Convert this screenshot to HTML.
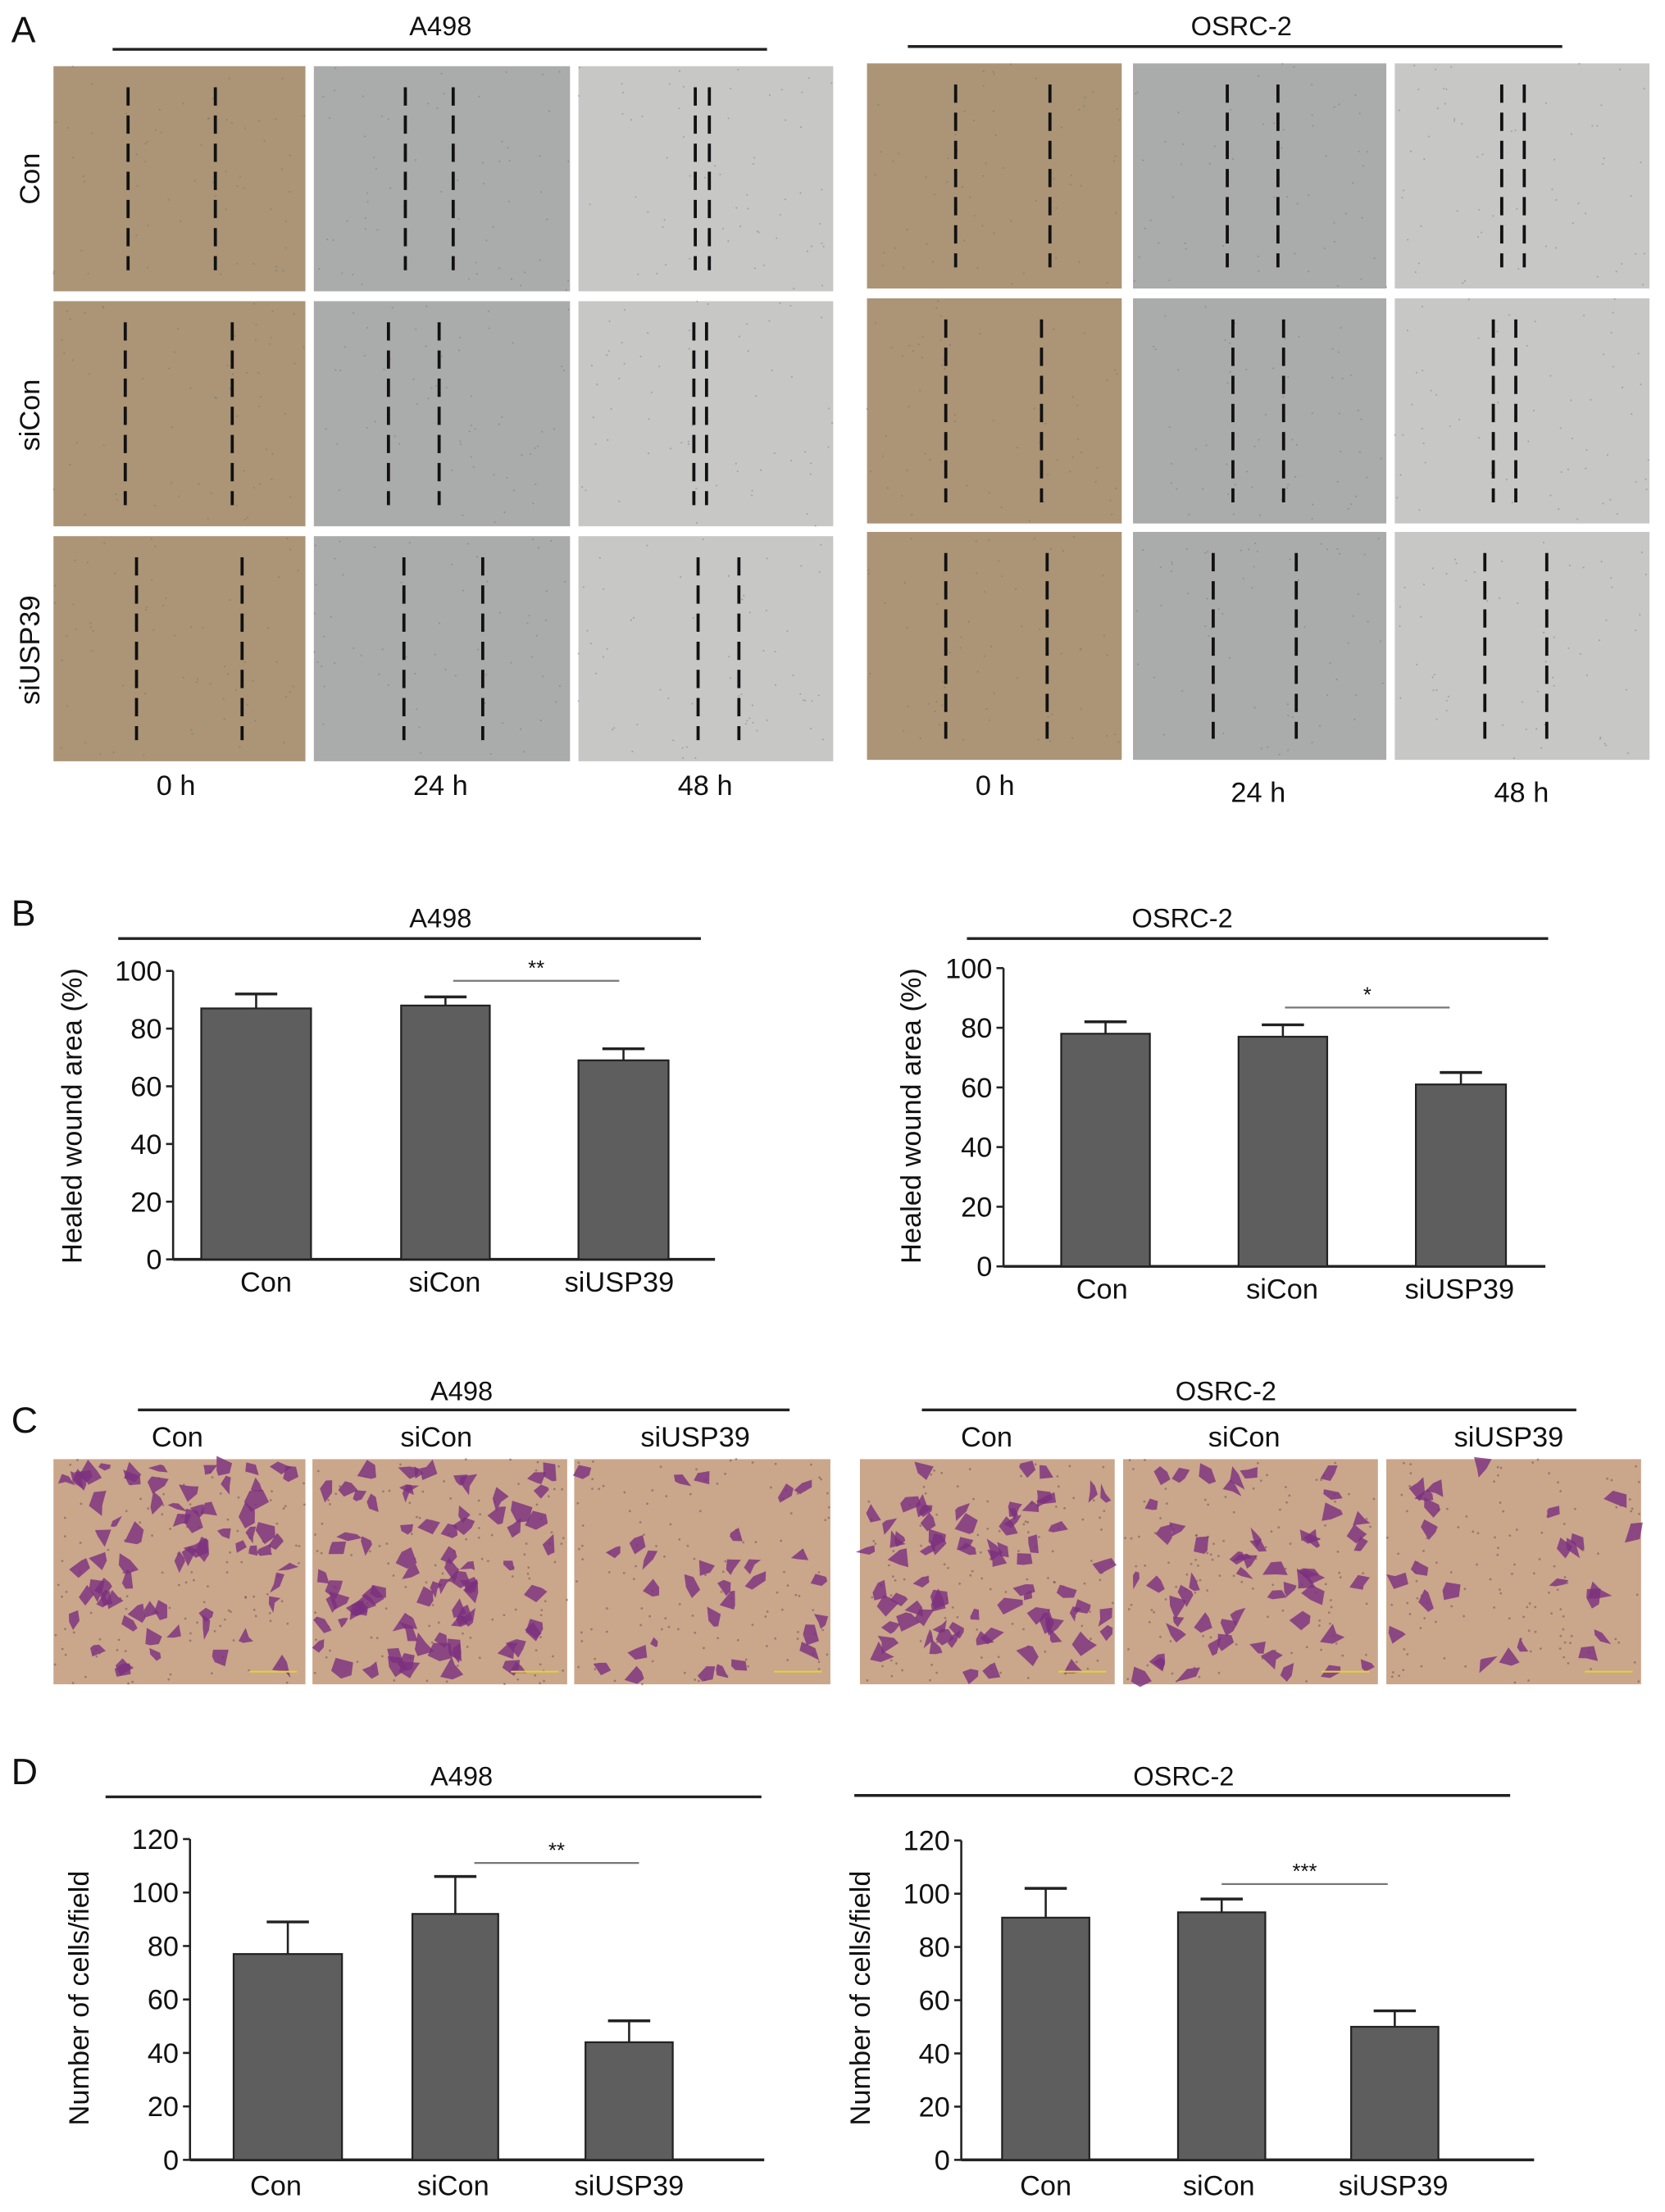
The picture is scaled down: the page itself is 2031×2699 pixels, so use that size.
<!DOCTYPE html>
<html><head><meta charset="utf-8">
<style>html,body{margin:0;padding:0;background:#fff}svg{display:block}text{font-family:"Liberation Sans",Arial,sans-serif;fill:#111}</style>
</head><body>
<svg id="s" width="2031" height="2699" viewBox="0 0 1183 1572" xmlns="http://www.w3.org/2000/svg">
<rect width="1183" height="1572" fill="#fff"/>
</svg>
<script>
var S=document.getElementById('s'),NS='http://www.w3.org/2000/svg';
function el(t,a,txt){var e=document.createElementNS(NS,t);for(var k in a)e.setAttribute(k,a[k]);if(txt!=null)e.textContent=txt;S.appendChild(e);return e;}
function T(x,y,s,size,extra){var a={x:x,y:y,'font-size':size||20,'text-anchor':'middle'};for(var k in extra)a[k]=extra[k];return el('text',a,s);}
function L(x1,y1,x2,y2,w,c){el('line',{x1:x1,y1:y1,x2:x2,y2:y2,stroke:c||'#222','stroke-width':w||1.5});}
var seed=7;function R(){seed=(seed*16807)%2147483647;return seed/2147483647;}
T(8,30,'A',26,{'text-anchor':'start'});T(8,658,'B',26,{'text-anchor':'start'});
T(8,1018,'C',26,{'text-anchor':'start'});T(8,1268,'D',26,{'text-anchor':'start'});
T(313,25,'A498',19);L(80,35,545,35,2);T(882,25,'OSRC-2',19);L(645,33,1110,33,2);
var colsA=[[38,217],[223,405],[411,592]],rowsA=[[47,207],[214,374],[381,541]];
var colsO=[[616,797],[805,985],[991,1172]],rowsO=[[45,205],[212,372],[378,540]];
var fills=['#ab9576','#aaacab','#c7c8c6'];
var dA=[[[91,153],[288,322],[494,504]],[[89,165],[276,312],[493,502]],[[97,172],[287,343],[496,525]]];
var dO=[[[679,746],[872,908],[1067,1083]],[[672,740],[876,912],[1061,1077]],[[672,744],[862,921],[1055,1099]]];
function grid(cols,rows,d){for(var r=0;r<3;r++)for(var c=0;c<3;c++){var x=cols[c][0],w=cols[c][1]-x,y=rows[r][0],h=rows[r][1]-y;
el('rect',{x:x,y:y,width:w,height:h,fill:fills[c]});
for(var i=0;i<60;i++)el('circle',{cx:x+R()*w,cy:y+R()*h,r:0.6,fill:'#666','fill-opacity':0.4});
d[r][c].forEach(function(xx){el('line',{x1:xx,y1:y+15,x2:xx,y2:rows[r][1]-15,stroke:'#111','stroke-width':2.2,'stroke-dasharray':'13,7'});});}}
grid(colsA,rowsA,dA);grid(colsO,rowsO,dO);
[['Con',127],['siCon',295],['siUSP39',462]].forEach(function(a){T(28,a[1],a[0],20,{transform:'rotate(-90 28 '+a[1]+')'});});
[[125,565,'0 h'],[313,565,'24 h'],[501,565,'48 h'],[707,565,'0 h'],[894,570,'24 h'],[1081,570,'48 h']].forEach(function(a){T(a[0],a[1],a[2],20);});
T(328,995,'A498',19);L(98,1002,561,1002,2);T(871,995,'OSRC-2',19);L(655,1002,1120,1002,2);
[[126,'Con'],[310,'siCon'],[494,'siUSP39'],[701,'Con'],[884,'siCon'],[1072,'siUSP39']].forEach(function(a){T(a[0],1028,a[1],20);});
var colsC=[[38,217,70],[222,403,80],[408,590,30],[611,792,75],[798,979,55],[985,1166,25]];
colsC.forEach(function(c){var x=c[0],w=c[1]-x,y=1037,h=160;el('rect',{x:x,y:y,width:w,height:h,fill:'#caa68b'});
for(var i=0;i<120;i++)el('circle',{cx:x+R()*w,cy:y+R()*h,r:0.8,fill:'#6a4a50','fill-opacity':0.5});
for(var i=0;i<c[2];i++){var cx=x+5+R()*(w-10),cy=y+5+R()*(h-10),pts=[];for(var k=0;k<5;k++){var an=k*1.26+R(),rr=2+R()*8;pts.push((cx+Math.cos(an)*rr).toFixed(1)+','+(cy+Math.sin(an)*rr).toFixed(1));}
el('polygon',{points:pts.join(' '),fill:'#7b2f7e','fill-opacity':0.8});}
el('line',{x1:x+w-40,y1:y+h-9,x2:x+w-6,y2:y+h-9,stroke:'#e0d040','stroke-width':1.2});});
function chart(o){var ax=o.ax,y0=o.y0,yt=o.yt,max=o.max,sc=(y0-yt)/max;function Y(v){return y0-v*sc;}
L(ax,yt,ax,y0,1.5);L(ax,y0,o.xe,y0,2);
for(var v=0;v<=max;v+=20){L(ax-5,Y(v),ax,Y(v),1.5);T(ax-8,Y(v)+7,String(v),20,{'text-anchor':'end'});}
o.bars.forEach(function(b){el('rect',{x:b[0],y:Y(b[2]),width:b[1]-b[0],height:y0-Y(b[2]),fill:'#5e5e5e',stroke:'#222','stroke-width':1.3});
var m=(b[0]+b[1])/2;L(m,Y(b[2]),m,Y(b[3]),1.5);L(m-15,Y(b[3]),m+15,Y(b[3]),2);});
o.labs.forEach(function(l,i){T(l,o.ly,['Con','siCon','siUSP39'][i],20);});
L(o.sig[0],o.sig[2],o.sig[1],o.sig[2],1.3,'#777');T((o.sig[0]+o.sig[1])/2,o.sig[2]-4,o.star,15);
T(o.ylx,o.ylc,o.yl,20,{transform:'rotate(-90 '+o.ylx+' '+o.ylc+')'});
T(o.title[0],o.title[1],o.title[2],19);L(o.tl[0],o.tl[2],o.tl[1],o.tl[2],2);}
chart({ax:123,y0:895,yt:690,max:100,xe:508,bars:[[143,221,87,92],[285,348,88,91],[411,475,69,73]],labs:[189,316,440],ly:918,sig:[322,440,697],star:'**',ylx:58,ylc:793,yl:'Healed wound area (%)',title:[313,659,'A498'],tl:[84,498,667]});
chart({ax:713,y0:900,yt:688,max:100,xe:1098,bars:[[754,817,78,82],[880,943,77,81],[1006,1070,61,65]],labs:[783,911,1037],ly:923,sig:[913,1030,716],star:'*',ylx:654,ylc:793,yl:'Healed wound area (%)',title:[840,659,'OSRC-2'],tl:[687,1100,667]});
chart({ax:135,y0:1535,yt:1307,max:120,xe:543,bars:[[166,243,77,89],[293,354,92,106],[416,478,44,52]],labs:[196,322,447],ly:1560,sig:[337,454,1324],star:'**',ylx:63,ylc:1420,yl:'Number of cells/field',title:[328,1269,'A498'],tl:[75,541,1277]});
chart({ax:683,y0:1535,yt:1308,max:120,xe:1090,bars:[[712,774,91,102],[837,899,93,98],[960,1022,50,56]],labs:[743,866,990],ly:1560,sig:[868,986,1339],star:'***',ylx:618,ylc:1420,yl:'Number of cells/field',title:[841,1269,'OSRC-2'],tl:[607,1073,1276]});
</script>
</body></html>
